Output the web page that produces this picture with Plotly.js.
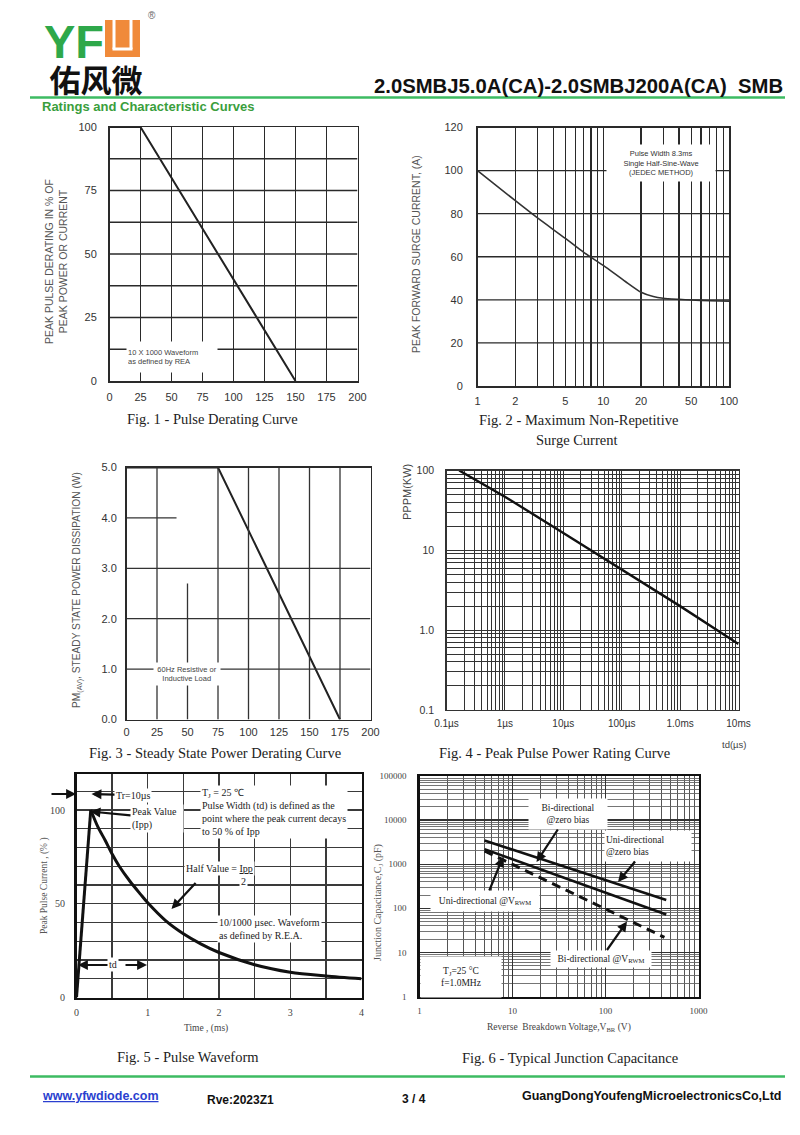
<!DOCTYPE html>
<html><head><meta charset="utf-8">
<script src="https://cdn.plot.ly/plotly-3.0.1.min.js"></script>
<style>html,body{margin:0;padding:0;background:#fff}#chart{width:800px;height:1135px}</style>
</head><body><div id="chart"></div>
<script>
// ---------------- DATA ----------------
const fig1Temp = [0, 25, 150];
const fig1Derating = [100, 100, 0];
const fig1XTicks = [0, 25, 50, 75, 100, 125, 150, 175, 200];
const fig1XLabels = ['0', '25', '50', '75', '100', '125', '150', '175', '200'];
const fig1YTicks = [0, 25, 50, 75, 100];
const fig1YLabels = ['0', '25', '50', '75', '100'];
const fig1YGrid = [12.5, 25, 37.5, 50, 62.5, 75, 87.5];

const fig2Cycles = [1, 2, 3, 5, 7, 10, 15, 20, 25, 30, 40, 50, 70, 100];
const fig2Surge = [100, 86, 78, 68.5, 62, 56, 48.5, 43.5, 41.5, 40.7, 40.2, 39.9, 39.6, 39.4];
const fig2XTicks = [1, 2, 5, 10, 20, 50, 100];
const fig2XLabels = ['1', '2', '5', '10', '20', '50', '100'];
const fig2YTicks = [0, 20, 40, 60, 80, 100, 120];
const fig2YLabels = ['0', '20', '40', '60', '80', '100', '120'];

const fig3Temp = [0, 75, 175];
const fig3Power = [5, 5, 0];
const fig3XTicks = [0, 25, 50, 75, 100, 125, 150, 175, 200];
const fig3XLabels = ['0', '25', '50', '75', '100', '125', '150', '175', '200'];
const fig3YTicks = [0, 1, 2, 3, 4, 5];
const fig3YLabels = ['0.0', '1.0', '2.0', '3.0', '4.0', '5.0'];

const fig4Td = [0.165, 1, 10, 100, 1000, 10000];
const fig4Ppk = [100, 47, 16.5, 5.7, 2.0, 0.67];
const fig4XTicks = [0.1, 1, 10, 100, 1000, 10000];
const fig4XLabels = ['0.1µs', '1µs', '10µs', '100µs', '1.0ms', '10ms'];
const fig4YTicks = [0.1, 1, 10, 100];
const fig4YLabels = ['0.1', '1.0', '10', '100'];

const fig5RiseT = [0, 0.2];
const fig5RiseI = [0, 100];
const fig5DecayT = [0.2, 0.3, 0.4, 0.5, 0.6, 0.75, 0.9, 1.0, 1.25, 1.5, 1.75, 2.0, 2.5, 3.0, 3.5, 4.0];
const fig5DecayI = [100, 91, 84, 76.5, 70, 62, 55, 50.5, 41, 34, 28.5, 24, 17.5, 13.5, 11.5, 10];
const fig5XTicks = [0, 1, 2, 3, 4];
const fig5XLabels = ['0', '1', '2', '3', '4'];
const fig5XGrid = [0.5, 1.5, 2.5, 3.5];
const fig5YTicks = [0, 50, 100];
const fig5YLabels = ['0', '50', '100'];
const fig5YGrid = [10, 20, 30, 40, 60, 70, 80, 90, 110];

const fig6Vbr = [5, 450];
const fig6UniZero = [3450, 155];
const fig6BiZero = [2200, 72];
const fig6VbrDash = [5, 430];
const fig6BiVrwm = [2000, 22];
const fig6XTicks = [1, 10, 100, 1000];
const fig6XLabels = ['1', '10', '100', '1000'];
const fig6YTicks = [1, 10, 100, 1000, 10000, 100000];
const fig6YLabels = ['1', '10', '100', '1000', '10000', '100000'];

// ---------------- HELPERS ----------------
const W = 800, H = 1135;
const px = v => v / W;
const py = v => 1 - v / H;
const xd = (a, b) => [a / W, b / W];
const yd = (t, b) => [1 - b / H, 1 - t / H];
const SANS = 'Liberation Sans, Arial, Helvetica, sans-serif';
const SERIF = 'Liberation Serif, Times New Roman, serif';

// grid positions between the labelled ticks of a log axis (2..9 x 10^k)
function logMinor(lo, hi, skip) {
  const out = [];
  for (let e = lo; e < hi; e++) for (let m = 2; m < 10; m++) {
    const v = +(m * Math.pow(10, e)).toPrecision(3);
    if (!(skip || []).some(s => Math.abs(s - v) / s < 1e-6)) out.push(v);
  }
  return out;
}
function txt(text, x, y, o) {
  return Object.assign({ text, x: px(x), y: py(y), xref: 'paper', yref: 'paper', showarrow: false,
    xanchor: 'center', yanchor: 'middle', font: { family: SANS, size: 12, color: '#222' } }, o || {});
}
// text box centred at (cx, cy) with an arrow pointing at (hx, hy)
function callout(text, hx, hy, cx, cy, o) {
  return Object.assign({ text, x: px(hx), y: py(hy), xref: 'paper', yref: 'paper', ax: cx - hx, ay: cy - hy,
    axref: 'pixel', ayref: 'pixel', showarrow: true, arrowhead: 2, arrowsize: 0.9, arrowwidth: 2.2, arrowcolor: '#111',
    bgcolor: '#fff' }, o || {});
}
function arrow(hx, hy, tx, ty, w) {
  return { text: '', x: px(hx), y: py(hy), xref: 'paper', yref: 'paper', ax: tx - hx, ay: ty - hy,
    axref: 'pixel', ayref: 'pixel', showarrow: true, arrowhead: 2, arrowsize: 0.9, arrowwidth: w || 2.2, arrowcolor: '#111' };
}
function base(dom, anchor, o) {
  return Object.assign({ domain: dom, anchor, showline: true, mirror: true, zeroline: false, ticks: '',
    fixedrange: true, tickmode: 'array' }, o);
}
function minor(vals, color, width) {
  return { tickmode: 'array', tickvals: vals, ticks: '', showgrid: true, gridcolor: color, gridwidth: width };
}

const sansTick = { family: SANS, size: 11, color: '#333' };
const serifTick = { family: SERIF, size: 10, color: '#444' };
const GRID = '#2a2a2a';

// ---------------- TRACES ----------------
const line = (c, w) => ({ color: c || '#222', width: w || 2 });
const traces = [
  { x: fig1Temp, y: fig1Derating, xaxis: 'x', yaxis: 'y', mode: 'lines', line: line('#222', 2), hoverinfo: 'skip' },
  { x: fig2Cycles, y: fig2Surge, xaxis: 'x2', yaxis: 'y2', mode: 'lines', line: Object.assign(line('#333', 1.6), { shape: 'spline', smoothing: 0.6 }), hoverinfo: 'skip' },
  { x: fig3Temp, y: fig3Power, xaxis: 'x3', yaxis: 'y3', mode: 'lines', line: line('#222', 2), hoverinfo: 'skip' },
  { x: fig4Td, y: fig4Ppk, xaxis: 'x4', yaxis: 'y4', mode: 'lines', line: line('#111', 2.4), hoverinfo: 'skip' },
  { x: fig5RiseT, y: fig5RiseI, xaxis: 'x5', yaxis: 'y5', mode: 'lines', line: line('#111', 3), hoverinfo: 'skip' },
  { x: fig5DecayT, y: fig5DecayI, xaxis: 'x5', yaxis: 'y5', mode: 'lines', line: Object.assign(line('#111', 3), { shape: 'spline', smoothing: 0.8 }), hoverinfo: 'skip' },
  { x: fig6Vbr, y: fig6UniZero, xaxis: 'x6', yaxis: 'y6', mode: 'lines', line: line('#111', 2.6), hoverinfo: 'skip' },
  { x: fig6Vbr, y: fig6BiZero, xaxis: 'x6', yaxis: 'y6', mode: 'lines', line: line('#111', 2.6), hoverinfo: 'skip' },
  { x: fig6VbrDash, y: fig6BiVrwm, xaxis: 'x6', yaxis: 'y6', mode: 'lines', line: { color: '#111', width: 3, dash: '9px,6px' }, hoverinfo: 'skip' }
];

// ---------------- SHAPES ----------------
const shapes = [];
const pl = (x0, y0, x1, y1, c, w) => shapes.push({ type: 'line', xref: 'paper', yref: 'paper', x0: px(x0), y0: py(y0), x1: px(x1), y1: py(y1), line: { color: c, width: w } });
// header / footer rules
pl(30, 97.5, 785, 97.5, '#3dbb62', 2.5);
pl(30, 1076.5, 785, 1076.5, '#3dbb62', 2.5);
// logo orange block with white inner U
shapes.push({ type: 'rect', xref: 'paper', yref: 'paper', x0: px(105), x1: px(140), y0: py(57), y1: py(20), fillcolor: '#f08a3a', line: { width: 0 } });
pl(114, 20, 114, 49, '#fff', 3);
pl(131, 20, 131, 49, '#fff', 3);
pl(112.5, 49, 132.5, 49, '#fff', 3);
// horizontal grid of fig 1 and fig 2
const gl = (xr, yr, x0, y0, x1, y1, c, w) => shapes.push({ type: 'line', xref: xr, yref: yr, x0, y0, x1, y1, layer: 'above', line: { color: c, width: w } });
fig1YGrid.forEach(v => gl('x', 'y', 0, v, 200, v, GRID, 1.3));
fig2YTicks.slice(1, -1).forEach(v => gl('x2', 'y2', 1, v, 100, v, GRID, 1.3));
// fig 3 grid (partly interrupted in the original)
const g3 = (x0, y0, x1, y1) => gl('x3', 'y3', x0, y0, x1, y1, '#333', 1.3);
[25, 75, 100, 125, 150, 175].forEach(v => g3(v, 0, v, 5));
g3(50, 0, 50, 2.7);
[1, 2, 3].forEach(v => g3(0, v, 200, v));
g3(0, 4, 41, 4);

// ---------------- ANNOTATIONS ----------------
const ann = [];
// header: logo letters and company name in one text block
ann.push(txt('<b><span style="font-size:47px;color:#2ea84a">YF</span><br><span style="font-size:20px">\u00a0</span><span style="font-size:31px;color:#111;font-family:Noto Sans CJK SC">佑风微</span></b>',
  42, 13.5, { xanchor: 'left', yanchor: 'top', align: 'left', font: { family: SANS, size: 26, color: '#111' } }));
ann.push(txt('®', 152, 16, { font: { family: SANS, size: 10, color: '#666' } }));
ann.push(txt('<b>2.0SMBJ5.0A(CA)-2.0SMBJ200A(CA)\u00a0\u00a0SMB</b>', 578, 86, { font: { family: SANS, size: 20.3, color: '#111' } }));
ann.push(txt('<b>Ratings and Characteristic Curves</b>', 40, 106, { xanchor: 'left', font: { family: SANS, size: 13, color: '#3a9e3c' } }));
// footer
ann.push(txt('<b><u>www.yfwdiode.com</u></b>', 40, 1096, { xanchor: 'left', font: { family: SANS, size: 12.5, color: '#2a3fcf' } }));
ann.push(txt('<b>Rve:2023Z1</b>', 205, 1100, { xanchor: 'left', font: { family: SANS, size: 12, color: '#111' } }));
ann.push(txt('<b>3 / 4</b>', 400, 1099, { xanchor: 'left', font: { family: SANS, size: 12, color: '#111' } }));
ann.push(txt('<b>GuangDongYoufengMicroelectronicsCo,Ltd</b>', 784, 1096, { xanchor: 'right', font: { family: SANS, size: 12.5, color: '#111' } }));

// captions
const cap = { family: SERIF, size: 14.5, color: '#222' };
ann.push(txt('Fig. 1 - Pulse Derating Curve', 212, 419, { font: cap }));
ann.push(txt('Fig. 2 - Maximum Non-Repetitive', 578, 420, { font: cap }));
ann.push(txt('Surge Current', 577, 440, { font: cap }));
ann.push(txt('Fig. 3 - Steady State Power Derating Curve', 215, 753, { font: cap }));
ann.push(txt('Fig. 4 - Peak Pulse Power Rating Curve', 554, 753, { font: cap }));
ann.push(txt('Fig. 5 - Pulse Waveform', 188, 1057, { font: cap }));
ann.push(txt('Fig. 6 - Typical Junction Capacitance', 570, 1058, { font: cap }));

// axis titles
const atitle = { family: SANS, size: 10.5, color: '#555' };
ann.push(txt('PEAK PULSE DERATING IN % OF<br>PEAK POWER OR CURRENT', 56, 262, { textangle: -90, font: atitle }));
ann.push(txt('PEAK FORWARD SURGE CURRENT, (A)', 416, 254, { textangle: -90, font: atitle }));
ann.push(txt('PM<sub>(AV)</sub>, STEADY STATE POWER DISSIPATION (W)', 77, 590, { textangle: -90, font: { family: SANS, size: 10.2, color: '#555' } }));
ann.push(txt('PPPM(KW)', 407, 492, { textangle: -90, font: { family: SANS, size: 11, color: '#444' } }));
ann.push(txt('td(µs)', 734, 744, { font: { family: SANS, size: 9.5, color: '#444' } }));
ann.push(txt('Peak Pulse Current , (% )', 44, 886, { textangle: -90, font: { family: SERIF, size: 9.5, color: '#555' } }));
ann.push(txt('Time , (ms)', 206, 1028, { font: { family: SERIF, size: 9.5, color: '#444' } }));
ann.push(txt('Junction Capacitance,C<sub>J</sub> (pF)', 378, 903, { textangle: -90, font: { family: SERIF, size: 10, color: '#555' } }));
ann.push(txt('Reverse\u00a0\u00a0Breakdown Voltage,V<sub>BR</sub> (V)', 559, 1027, { font: { family: SERIF, size: 9.5, color: '#444' } }));

// in-plot notes (white boxes)
ann.push(txt('10 X 1000 Waveform<br>as defined by REA', 172, 357, { align: 'left', bgcolor: '#fff', width: 88, height: 28, font: { family: SANS, size: 7.5, color: '#444' } }));
ann.push(txt('Pulse Width 8.3ms<br>Single Half-Sine-Wave<br>(JEDEC METHOD)', 661, 163, { bgcolor: '#fff', width: 106, height: 34, font: { family: SANS, size: 7.5, color: '#333' } }));
ann.push(txt('60Hz Resistive or<br>Inductive Load', 187, 673.5, { bgcolor: '#fff', width: 64, height: 20, font: { family: SANS, size: 7.5, color: '#444' } }));

// fig 5 notes
const n5 = { family: SERIF, size: 10, color: '#222' };
ann.push(arrow(76, 794, 50, 794));
ann.push(callout('Tr=10µs', 91.5, 794, 133, 795, { font: n5 }));
ann.push(txt('T<sub>J</sub> = 25 ℃<br>Pulse Width (td) is defined as the<br>point where the peak current decays<br>to 50 % of Ipp', 200, 811.5, { xanchor: 'left', align: 'left', bgcolor: '#fff', font: n5 }));
ann.push(callout('Peak Value<br>(Ipp)', 90.5, 811.5, 157, 818, { align: 'left', width: 50, font: n5 }));
ann.push(txt('Half Value = <u>Ipp</u>', 184, 868, { xanchor: 'left', bgcolor: '#fff', font: n5 }));
ann.push(txt('2', 243, 881.5, { bgcolor: '#fff', font: n5 }));
ann.push(arrow(171.5, 909, 197, 881.5));
ann.push(txt('10/1000 µsec. Waveform<br>as defined by R.E.A.', 217, 929, { xanchor: 'left', align: 'left', bgcolor: '#fff', font: n5 }));
ann.push(callout('td', 78, 965, 113, 965, { font: n5 }));
ann.push(arrow(147, 965, 124, 965));

// fig 6 notes
const n6 = { family: SERIF, size: 9.5, color: '#222' };
ann.push(callout('Bi-directional<br>@zero bias', 536.5, 862, 568, 814, { width: 76, height: 28, font: n6 }));
ann.push(callout('Uni-directional<br>@zero bias', 618, 882, 648, 846, { align: 'left', width: 84, height: 28, font: n6 }));
ann.push(callout('Uni-directional @V<sub>RWM</sub>', 503, 857, 485, 901, { width: 106, height: 18, font: n6 }));
ann.push(callout('Bi-directional @V<sub>RWM</sub>', 627, 921.5, 601, 958.5, { width: 98, height: 14, font: n6 }));
ann.push(txt('T<sub>J</sub>=25 °C<br>f=1.0MHz', 461, 976.5, { bgcolor: '#fff', width: 78, height: 38, font: n6 }));

// ---------------- LAYOUT ----------------
const layout = {
  width: W, height: H, margin: { l: 0, r: 0, t: 0, b: 0 }, paper_bgcolor: '#fff', plot_bgcolor: '#fff',
  showlegend: false, shapes, annotations: ann,
  xaxis: base(xd(109.5, 357.5), 'y', { range: [0, 200], tickvals: fig1XTicks, ticktext: fig1XLabels, showgrid: true, gridcolor: GRID, gridwidth: 1.3, linecolor: GRID, linewidth: 1.5, tickfont: sansTick, ticklabelstandoff: 5 }),
  yaxis: base(yd(127, 381), 'x', { range: [0, 100], tickvals: fig1YTicks, ticktext: fig1YLabels, showgrid: false, linecolor: GRID, linewidth: 1.5, tickfont: sansTick, ticklabelstandoff: 9 }),
  xaxis2: base(xd(477.5, 729), 'y2', { type: 'log', range: [0, 2], tickvals: fig2XTicks, ticktext: fig2XLabels, showgrid: true, gridcolor: GRID, gridwidth: 1.3, minor: minor(logMinor(0, 2, fig2XTicks), GRID, 1.3), linecolor: GRID, linewidth: 1.5, tickfont: sansTick, ticklabelstandoff: 4 }),
  yaxis2: base(yd(127.5, 386), 'x2', { range: [0, 120], tickvals: fig2YTicks, ticktext: fig2YLabels, showgrid: false, linecolor: GRID, linewidth: 1.5, tickfont: sansTick, ticklabelstandoff: 11 }),
  xaxis3: base(xd(126.5, 370.5), 'y3', { range: [0, 200], tickvals: fig3XTicks, ticktext: fig3XLabels, showgrid: false, linecolor: GRID, linewidth: 1.5, tickfont: sansTick, ticklabelstandoff: 2 }),
  yaxis3: base(yd(467.5, 719.5), 'x3', { range: [0, 5], tickvals: fig3YTicks, ticktext: fig3YLabels, showgrid: false, linecolor: GRID, linewidth: 1.5, tickfont: sansTick, ticklabelstandoff: 6 }),
  xaxis4: base(xd(446.5, 738.5), 'y4', { type: 'log', range: [-1, 4], tickvals: fig4XTicks, ticktext: fig4XLabels, showgrid: true, gridcolor: '#333', gridwidth: 1, minor: minor(logMinor(-1, 4), '#333', 1), linecolor: '#333', linewidth: 1.3, tickfont: { family: SANS, size: 10, color: '#333' }, ticklabelstandoff: 4 }),
  yaxis4: base(yd(470.5, 710), 'x4', { type: 'log', range: [-1, 2], tickvals: fig4YTicks, ticktext: fig4YLabels, showgrid: true, gridcolor: '#333', gridwidth: 1, minor: minor(logMinor(-1, 2), '#333', 1), linecolor: '#333', linewidth: 1.3, tickfont: { family: SANS, size: 10.5, color: '#333' }, ticklabelstandoff: 9 }),
  xaxis5: base(xd(76.5, 361.5), 'y5', { range: [0, 4], tickvals: fig5XTicks, ticktext: fig5XLabels, showgrid: true, gridcolor: '#3a3a3a', gridwidth: 1.4, minor: minor(fig5XGrid, '#3a3a3a', 1.4), linecolor: '#111', linewidth: 2.5, tickfont: serifTick, ticklabelstandoff: 4 }),
  yaxis5: base(yd(774, 997.5), 'x5', { range: [0, 119.2], tickvals: fig5YTicks, ticktext: fig5YLabels, showgrid: true, gridcolor: '#3a3a3a', gridwidth: 1.4, minor: minor(fig5YGrid, '#3a3a3a', 1.4), linecolor: '#111', linewidth: 2.5, tickfont: serifTick, ticklabelstandoff: 7 }),
  xaxis6: base(xd(419.5, 698.5), 'y6', { type: 'log', range: [0, 3], tickvals: fig6XTicks, ticktext: fig6XLabels, showgrid: true, gridcolor: '#333', gridwidth: 1.2, minor: minor(logMinor(0, 3), '#555', 1), linecolor: '#111', linewidth: 2.2, tickfont: { family: SERIF, size: 9, color: '#444' }, ticklabelstandoff: 4 }),
  yaxis6: base(yd(776, 996.5), 'x6', { type: 'log', range: [0, 5], tickvals: fig6YTicks, ticktext: fig6YLabels, showgrid: true, gridcolor: '#333', gridwidth: 1.2, minor: minor(logMinor(0, 5), '#666', 0.9), linecolor: '#111', linewidth: 2.2, tickfont: { family: SERIF, size: 9, color: '#444' }, ticklabelstandoff: 9 })
};

Plotly.newPlot('chart', traces, layout, { staticPlot: true, displayModeBar: false });
</script>
</body></html>
